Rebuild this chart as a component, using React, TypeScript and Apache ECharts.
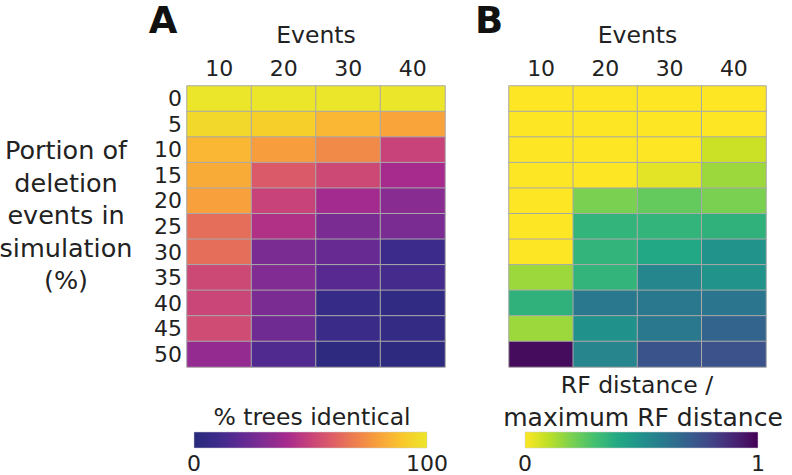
import React, { useEffect, useRef } from "react";
import * as echarts from "echarts";

const EVENTS = ["10", "20", "30", "40"];
const DELETION = ["0", "5", "10", "15", "20", "25", "30", "35", "40", "45", "50"];

// % trees identical, rows = deletion portion, cols = events
const IDENTICAL = [
  [100, 100, 100, 100],
  [95, 92, 85, 80],
  [85, 78, 72, 50],
  [82, 58, 52, 40],
  [79, 50, 39, 32],
  [64, 43, 28, 28],
  [64, 28, 22, 10],
  [52, 30, 18, 12],
  [51, 28, 7, 5],
  [53, 25, 9, 6],
  [35, 16, 3, 3],
];

// RF distance / maximum RF distance
const RF = [
  [0, 0, 0, 0],
  [0, 0, 0, 0],
  [0, 0, 0, 0.08],
  [0, 0, 0.04, 0.15],
  [0, 0.2, 0.24, 0.2],
  [0, 0.35, 0.35, 0.36],
  [0, 0.35, 0.4, 0.49],
  [0.15, 0.35, 0.54, 0.49],
  [0.36, 0.6, 0.6, 0.61],
  [0.15, 0.5, 0.6, 0.68],
  [0.97, 0.55, 0.74, 0.75],
];

const PLASMA = [
  "#272a7a", "#3d2b8b", "#5f2a92", "#812c92", "#a72a8d", "#c8437a",
  "#de6065", "#ef824d", "#f9a43a", "#f8c92b", "#ece62a",
];
const VIRIDIS_R = [
  "#fde725", "#bddf26", "#7ad151", "#44bf70", "#22a884", "#21918c",
  "#2a788e", "#355f8d", "#414487", "#482475", "#440154",
];

const FONT = "DejaVu Sans, sans-serif";
const TXT = "#222222";

function toCells(m: number[][]) {
  const out: number[][] = [];
  m.forEach((row, r) => row.forEach((v, c) => out.push([c, r, v])));
  return out;
}

function grad(colors: string[]) {
  return new echarts.graphic.LinearGradient(
    0, 0, 1, 0,
    colors.map((c, i) => ({ offset: i / (colors.length - 1), color: c }))
  );
}

function label(text: string, x: number, y: number, size: number) {
  return {
    type: "text",
    x,
    y,
    style: { text, fontFamily: FONT, fontSize: size, fill: TXT, align: "center", verticalAlign: "middle", lineHeight: size },
  };
}

export default function App() {
  const ref = useRef<HTMLDivElement>(null);
  useEffect(() => {
    const chart = echarts.init(ref.current!, null, { renderer: "svg" });
    const grids = [
      { left: 187, top: 86, width: 258, height: 281 },
      { left: 509, top: 86, width: 257, height: 281 },
    ];
    const xAxis = grids.map((_, i) => ({
      type: "category",
      gridIndex: i,
      data: EVENTS,
      position: "top",
      name: "Events",
      nameLocation: "middle",
      nameGap: 37,
      nameTextStyle: { fontFamily: FONT, fontSize: 23.5, color: TXT, lineHeight: 28 },
      axisLine: { show: false },
      axisTick: { show: false },
      splitLine: { show: false },
      axisLabel: { fontFamily: FONT, fontSize: 22, color: TXT, margin: 4, lineHeight: 28, interval: 0 },
    }));
    const yAxis = grids.map((_, i) => ({
      type: "category",
      gridIndex: i,
      data: DELETION,
      inverse: true,
      axisLine: { show: false },
      axisTick: { show: false },
      splitLine: { show: false },
      axisLabel: {
        show: i === 0,
        interval: 0,
        fontFamily: FONT,
        fontSize: 22,
        color: TXT,
        margin: 5,
        lineHeight: 22,
        padding: [6, 0, 0, 0],
      },
    }));
    const cellStyle = { borderColor: "#a9a9a9", borderWidth: 1 };
    const leftLabel = ["Portion of", "deletion", "events in", "simulation", "(%)"];
    chart.setOption({
      animation: false,
      backgroundColor: "#ffffff",
      grid: grids,
      xAxis,
      yAxis,
      visualMap: [
        { type: "continuous", show: false, seriesIndex: 0, min: 0, max: 100, inRange: { color: PLASMA } },
        { type: "continuous", show: false, seriesIndex: 1, min: 0, max: 1, inRange: { color: VIRIDIS_R } },
      ],
      series: [
        { type: "heatmap", xAxisIndex: 0, yAxisIndex: 0, data: toCells(IDENTICAL), itemStyle: cellStyle, emphasis: { disabled: true } },
        { type: "heatmap", xAxisIndex: 1, yAxisIndex: 1, data: toCells(RF), itemStyle: cellStyle, emphasis: { disabled: true } },
      ],
      graphic: [
        { type: "text", x: 163, y: 20, style: { text: "A", fontFamily: FONT, fontWeight: "bold", fontSize: 37, lineHeight: 32, fill: "#111", align: "center", verticalAlign: "middle" } },
        { type: "text", x: 489, y: 20, style: { text: "B", fontFamily: FONT, fontWeight: "bold", fontSize: 37, lineHeight: 32, fill: "#111", align: "center", verticalAlign: "middle" } },
        ...leftLabel.map((t, i) => label(t, 66, 150 + i * 32.5, 25.5)),
        // colorbar A
        label("% trees identical", 312, 417, 23.5),
        { type: "rect", shape: { x: 194, y: 432, width: 233, height: 16 }, style: { fill: grad(PLASMA), stroke: "#cccccc", lineWidth: 0.5 } },
        label("0", 194, 463, 22),
        label("100", 427, 463, 22),
        // colorbar B
        label("RF distance /", 637, 385, 23.5),
        label("maximum RF distance", 643, 417, 25),
        { type: "rect", shape: { x: 525, y: 432, width: 233, height: 16 }, style: { fill: grad(VIRIDIS_R), stroke: "#cccccc", lineWidth: 0.5 } },
        label("0", 525, 463, 22),
        label("1", 758, 463, 22),
      ],
    });
    return () => chart.dispose();
  }, []);
  return <div ref={ref} style={{ width: 792, height: 475, position: "fixed", left: 0, top: 0 }} />;
}
